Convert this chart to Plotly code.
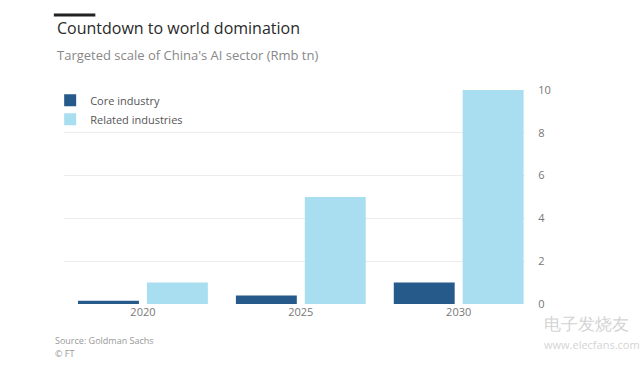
import plotly.graph_objects as go

years = ["2020", "2025", "2030"]
core = [0.15, 0.4, 1.0]
related = [1.0, 5.0, 10.0]
y_ticks = [0, 2, 4, 6, 8, 10]

FONT = "Open Sans"
fig = go.Figure()
fig.add_trace(go.Bar(x=years, y=core, name="Core industry", marker_color="#265a8a",
                     marker_line_width=0))
fig.add_trace(go.Bar(x=years, y=related, name="Related industries", marker_color="#a9def0",
                     marker_line_width=0))

fig.update_layout(
    width=640, height=366,
    paper_bgcolor="white", plot_bgcolor="white",
    margin=dict(l=64, r=115, t=90, b=62),
    barmode="group", bargap=0.127, bargroupgap=0.116,
    font=dict(family=FONT, color="#666"),
    showlegend=True,
    legend=dict(x=-0.03, y=1.02, xanchor="left", yanchor="top", bgcolor="rgba(0,0,0,0)",
                font=dict(size=11, color="#555"), itemwidth=30, tracegroupgap=0,
                borderwidth=0),
    xaxis=dict(type="category", range=[-0.5, 2.42], showgrid=False, showline=False,
               ticks="", tickfont=dict(size=11, color="#777")),
    yaxis=dict(side="right", range=[0, 10], tickvals=y_ticks, showgrid=True,
               gridcolor="#ececec", gridwidth=1, zeroline=False, showline=False,
               ticks="outside", ticklen=10, tickcolor="rgba(0,0,0,0)",
               tickfont=dict(size=11, color="#777")),
)

fig.add_shape(type="line", xref="paper", yref="paper", x0=-0.022, x1=0.068,
              y0=1.0 + (90 - 15) / 214, y1=1.0 + (90 - 15) / 214,
              line=dict(color="#222", width=3))

def ann(text, x, y, size, color, **kw):
    fig.add_annotation(text=text, xref="paper", yref="paper", x=x, y=y,
                       xanchor="left", yanchor="middle", showarrow=False,
                       font=dict(family=FONT, size=size, color=color), **kw)

def px_y(py):
    return (304 - py) / 214

def px_x(pxv):
    return (pxv - 64) / 461

ann("Countdown to world domination", px_x(55), px_y(28), 16, "#2a2a2a")
ann("Targeted scale of China's AI sector (Rmb tn)", px_x(55), px_y(55), 13, "#888")
ann("Source: Goldman Sachs", px_x(53), px_y(340), 9, "#999")
ann("© FT", px_x(53), px_y(353), 9, "#999")
ann("电子发烧友", px_x(542), px_y(323), 17, "#d4d4d4")
ann("www.elecfans.com", px_x(542), px_y(344), 11, "#d4d4d4")

fig.write_html("out.html", post_script="document.body.style.margin='0';",
               config={"displayModeBar": False})
